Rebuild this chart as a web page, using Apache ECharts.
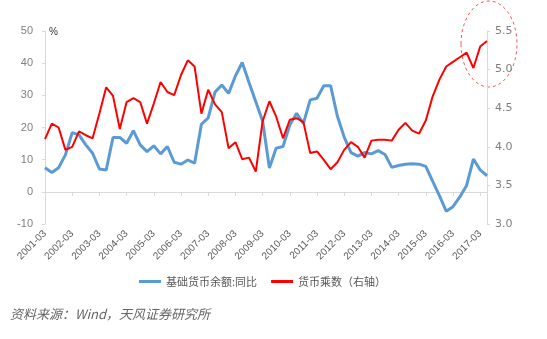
<!DOCTYPE html>
<html>
<head>
<meta charset="utf-8">
<script src="https://cdn.jsdelivr.net/npm/echarts@6/dist/echarts.min.js"></script>
<style>
html,body{margin:0;padding:0;background:#fff;}
#c{width:547px;height:339px;}
</style>
</head>
<body>
<div id="c"></div>
<script>
const categories = [
 "2001-03","2001-06","2001-09","2001-12","2002-03","2002-06","2002-09","2002-12",
 "2003-03","2003-06","2003-09","2003-12","2004-03","2004-06","2004-09","2004-12",
 "2005-03","2005-06","2005-09","2005-12","2006-03","2006-06","2006-09","2006-12",
 "2007-03","2007-06","2007-09","2007-12","2008-03","2008-06","2008-09","2008-12",
 "2009-03","2009-06","2009-09","2009-12","2010-03","2010-06","2010-09","2010-12",
 "2011-03","2011-06","2011-09","2011-12","2012-03","2012-06","2012-09","2012-12",
 "2013-03","2013-06","2013-09","2013-12","2014-03","2014-06","2014-09","2014-12",
 "2015-03","2015-06","2015-09","2015-12","2016-03","2016-06","2016-09","2016-12",
 "2017-03","2017-06"
];
const baseMoneyYoY = [
 7.5, 6.0, 7.5, 11.5, 18.4, 17.7, 14.6, 12.0,
 7.1, 6.8, 16.9, 16.9, 15.1, 19.0, 14.6, 12.5,
 14.3, 11.8, 14.1, 9.2, 8.6, 9.9, 8.9, 21.0,
 23.0, 31.0, 33.2, 30.6, 36.0, 40.2, 34.0, 28.0,
 22.0, 7.4, 13.6, 14.1, 20.8, 24.4, 21.3, 28.6,
 29.1, 33.0, 33.0, 23.5, 17.0, 12.2, 11.1, 12.2,
 11.8, 12.8, 11.6, 7.6, 8.2, 8.6, 8.7, 8.6,
 7.9, 3.3, -1.2, -6.0, -4.6, -1.6, 2.0, 10.2,
 6.8, 5.0
];
const moneyMultiplier = [
 4.10, 4.30, 4.25, 3.96, 4.00, 4.20, 4.15, 4.11,
 4.43, 4.77, 4.66, 4.23, 4.58, 4.63, 4.58, 4.30,
 4.56, 4.84, 4.71, 4.67, 4.93, 5.12, 5.04, 4.43,
 4.74, 4.55, 4.45, 3.98, 4.06, 3.84, 3.86, 3.68,
 4.33, 4.59, 4.39, 4.11, 4.35, 4.37, 4.32, 3.92,
 3.94, 3.83, 3.71, 3.80, 3.96, 4.06, 4.00, 3.86,
 4.08, 4.09, 4.09, 4.08, 4.22, 4.31, 4.21, 4.17,
 4.34, 4.65, 4.87, 5.04, 5.10, 5.16, 5.22, 5.02,
 5.30, 5.37
];
const leftTicks = {min: -10, max: 50, interval: 10};
const rightTicks = {min: 3.0, max: 5.5, interval: 0.5};
const seriesNames = ["基础货币余额:同比", "货币乘数（右轴）"];
const sourceText = "资料来源：Wind，天风证券研究所";

const chart = echarts.init(document.getElementById('c'));
const grey = '#7f7f7f';
const axisGrey = '#d9d9d9';
chart.setOption({
  animation: false,
  grid: {left: 45, right: 60, top: 31, bottom: 115, containLabel: false},
  legend: {
    left: 134, top: 271,
    itemWidth: 22, itemHeight: 10, itemGap: 14,
    icon: 'path://M0,0 L22,0 L22,3 L0,3 Z',
    textStyle: {fontSize: 11, color: '#595959', fontFamily: 'Noto Sans CJK SC'},
    data: seriesNames
  },
  xAxis: [{
    type: 'category', data: categories, boundaryGap: false,
    position: 'bottom',
    axisLine: {onZero: true, lineStyle: {color: axisGrey}},
    axisTick: {show: true, interval: 3, length: 4, lineStyle: {color: axisGrey}},
    axisLabel: {show: false}
  }, {
    type: 'category', data: categories, boundaryGap: false,
    position: 'bottom',
    axisLine: {show: false, onZero: false},
    axisTick: {show: false},
    axisLabel: {interval: 3, rotate: 45, fontSize: 10, color: '#595959', margin: 8,
      fontFamily: 'Liberation Sans'}
  }],
  yAxis: [{
    type: 'value', min: leftTicks.min, max: leftTicks.max, interval: leftTicks.interval,
    position: 'left',
    axisLine: {show: true, lineStyle: {color: axisGrey}},
    axisTick: {show: true, length: 3, lineStyle: {color: axisGrey}},
    splitLine: {show: false},
    axisLabel: {fontSize: 11, color: grey, margin: 12, fontFamily: 'Liberation Sans'}
  }, {
    type: 'value', min: rightTicks.min, max: rightTicks.max, interval: rightTicks.interval,
    position: 'right',
    axisLine: {show: true, lineStyle: {color: axisGrey}},
    axisTick: {show: true, length: 3, lineStyle: {color: axisGrey}},
    splitLine: {show: false},
    axisLabel: {fontSize: 11, color: grey, margin: 8, fontFamily: 'DejaVu Sans',
      formatter: v => v.toFixed(1)}
  }],
  series: [{
    name: seriesNames[0], type: 'line', data: baseMoneyYoY,
    xAxisIndex: 0, yAxisIndex: 0,
    symbol: 'none', lineStyle: {color: '#5b9bd5', width: 3}, itemStyle: {color: '#5b9bd5'}
  }, {
    name: seriesNames[1], type: 'line', data: moneyMultiplier,
    xAxisIndex: 0, yAxisIndex: 1,
    symbol: 'none', lineStyle: {color: '#ff0000', width: 2}, itemStyle: {color: '#ff0000'}
  }],
  graphic: [{
    type: 'text', left: 49, top: 27,
    style: {text: '%', fontSize: 10, fill: '#333', fontFamily: 'Liberation Sans'}
  }, {
    type: 'ellipse', shape: {cx: 489, cy: 44, rx: 28, ry: 43},
    style: {fill: 'none', stroke: '#ff5555', lineWidth: 1, lineDash: [3, 3]}
  }, {
    type: 'text', left: 10, top: 308,
    style: {text: sourceText, fontSize: 13, fill: '#666', fontStyle: 'italic',
      fontFamily: 'Noto Sans CJK SC'}
  }]
});
</script>
</body>
</html>
